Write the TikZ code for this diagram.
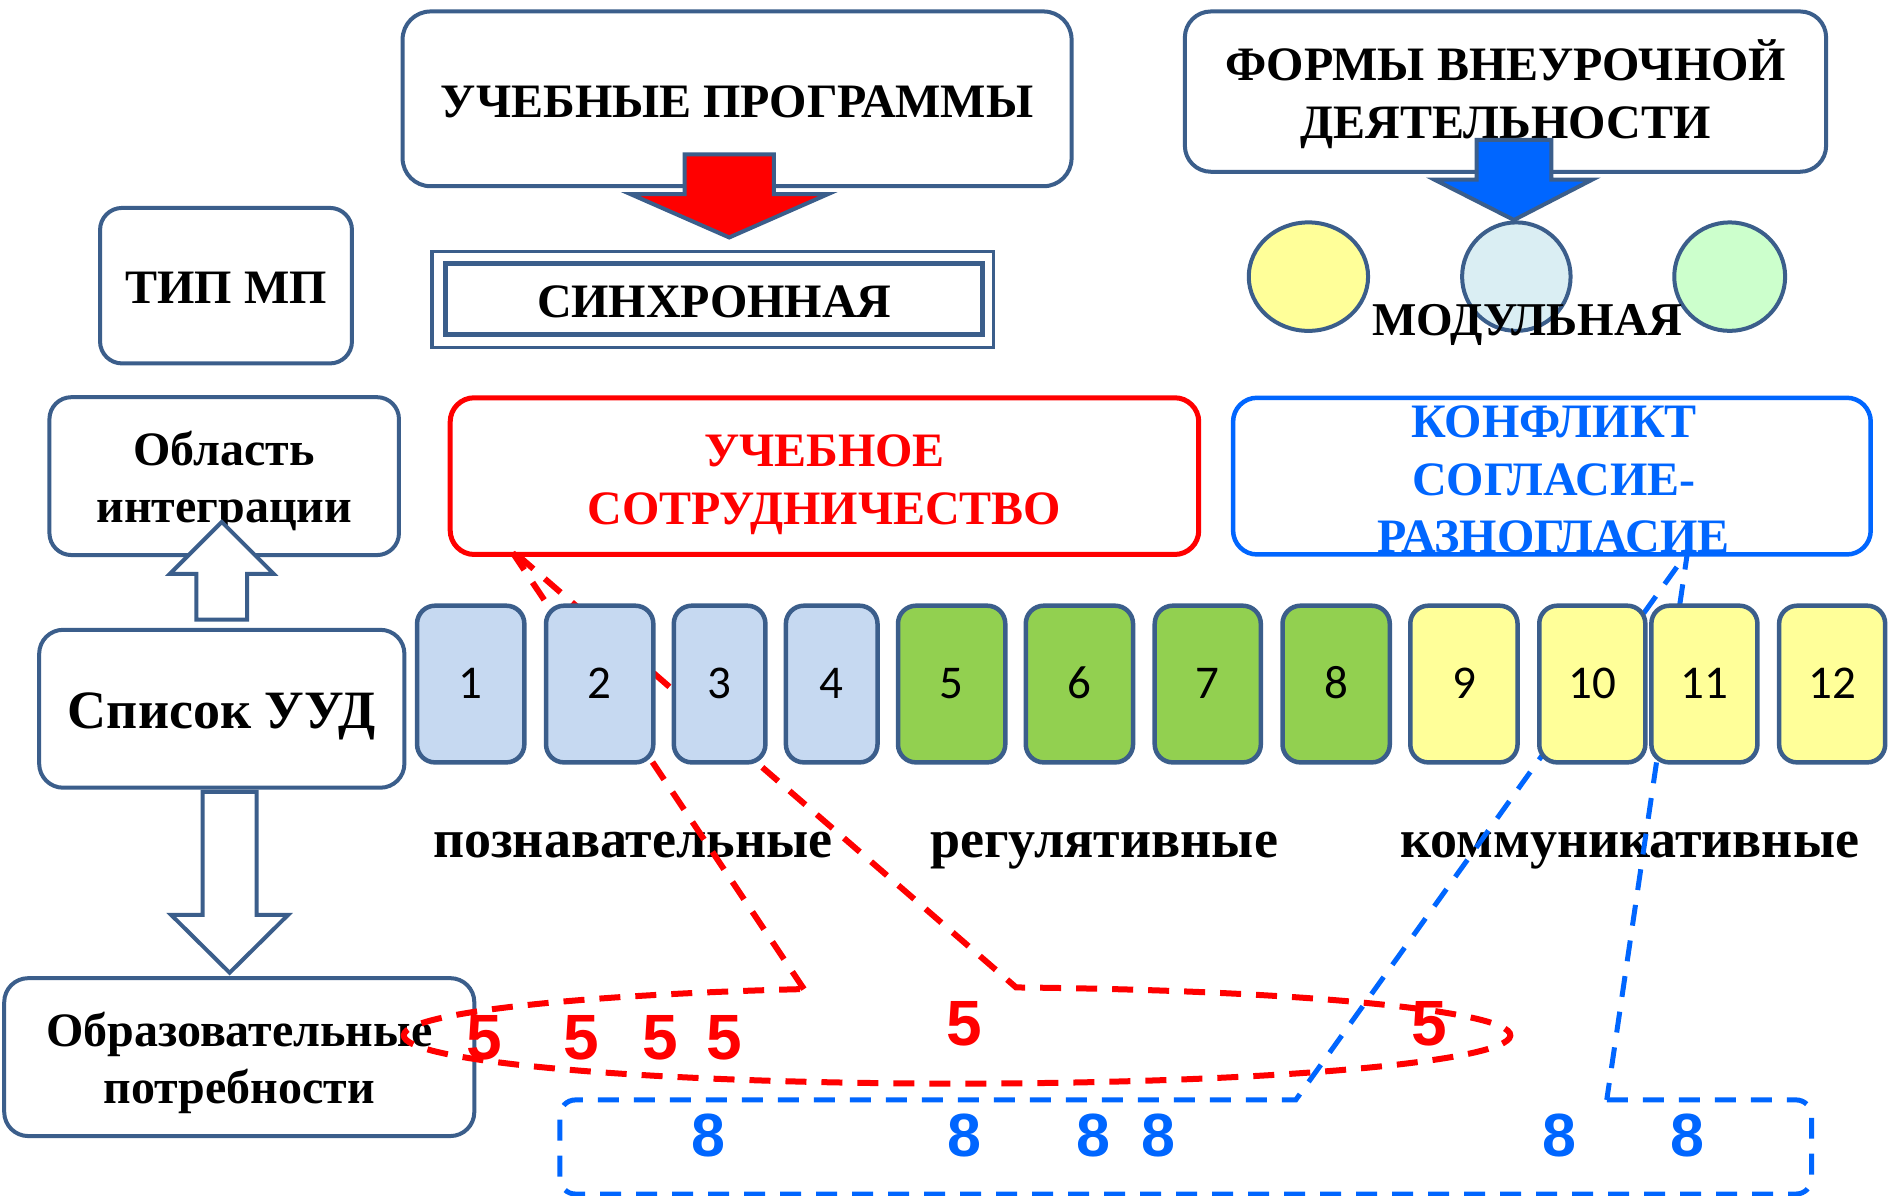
\documentclass[tikz,border=0pt]{standalone}
\usepackage{fontspec}
\setmainfont{Liberation Serif}
\newfontfamily\numfont{Carlito}
\newfontfamily\digfont{Liberation Sans}
\usetikzlibrary{shapes.geometric}
\definecolor{steel}{HTML}{3B5E8B}
\definecolor{cblue}{HTML}{C6D9F1}
\definecolor{cgreen}{HTML}{92D050}
\definecolor{cyellow}{HTML}{FFFF99}
\definecolor{bblue}{HTML}{0066FF}
\definecolor{ered}{HTML}{FF0000}
\definecolor{elblue}{HTML}{DAEEF3}
\definecolor{elgreen}{HTML}{CCFFCC}
\newcommand\myvs{\rule[-0.19em]{0pt}{1.14em}}
\newcommand\mytst{\rule[-0.2em]{0pt}{1.06em}}
\newcommand\myast{\rule[-0.2em]{0pt}{1.116em}}
\newcommand\mynst{\rule[-0.2em]{0pt}{1.032em}}
\def\U{1.2054pt}
\begin{document}
\begin{tikzpicture}[x=1.2054pt,y=-1.2054pt,
  bx/.style={draw=steel, line width=4pt, fill=white, inner sep=0pt, align=center,
    font=\fontsize{48}{57.6}\selectfont\bfseries},
  txt/.style={inner sep=0pt, align=center, font=\fontsize{48}{57.6}\selectfont\bfseries},
  numbox/.style={draw=steel, line width=4.5pt, rounded corners=18pt, inner sep=0pt,
    minimum height=130*\U, font=\fontsize{47}{50}\selectfont\numfont},
  blockarrow/.style={draw=steel, line width=4pt, line join=miter},
  elli/.style={ellipse, draw=steel, line width=4pt, inner sep=0pt, minimum height=90*\U},
  lbl/.style={inner sep=0pt, font=\fontsize{54}{60}\selectfont\bfseries},
  reddash/.style={draw=ered, line width=6pt, dash pattern=on 21pt off 15pt},
  bluedash/.style={draw=bblue, line width=5pt, dash pattern=on 21pt off 15pt},
  fiveS/.style={inner sep=0pt, text=ered, font=\fontsize{64}{70}\selectfont\digfont\bfseries},
  eightS/.style={inner sep=0pt, text=bblue, font=\fontsize{61}{70}\selectfont\digfont\bfseries}]
\fill[white] (0,0) rectangle (1568,992);
\useasboundingbox (0,0) rectangle (1568,992);

% top-left boxes
\node[bx, rounded corners=22pt, minimum width=209*\U, minimum height=129*\U] (tip) at (187.5,237) {\myvs ТИП МП};
\node[bx, rounded corners=22pt, minimum width=290*\U, minimum height=131*\U] (obl) at (186,395) {\myvs Область\\\myvs интеграции};
\node[bx, rounded corners=24pt, minimum width=303*\U, minimum height=131*\U, font=\fontsize{54}{60}\selectfont\bfseries] (spisok) at (184,588) {\myvs Список УУД};
\node[bx, rounded corners=24pt, minimum width=390*\U, minimum height=131*\U] (obraz) at (198.5,877) {\myvs Образовательные\\\myvs потребности};

% white block arrows
\filldraw[blockarrow, fill=white] (163,514) -- (163,476) -- (141,476) -- (184,433) -- (227,476) -- (205,476) -- (205,514) -- cycle;
\filldraw[blockarrow, fill=white] (168,657) -- (213,657) -- (213,759) -- (239,759) -- (190.5,807) -- (142,759) -- (168,759) -- cycle;

% top boxes
\node[bx, rounded corners=28pt, minimum width=555*\U, minimum height=145*\U] (prog) at (611.5,82) {\myvs УЧЕБНЫЕ ПРОГРАММЫ};
\filldraw[blockarrow, fill=ered] (568,128) -- (642,128) -- (642,161) -- (687,161) -- (605,197) -- (523,161) -- (568,161) -- cycle;
\node[draw=steel, line width=3.3pt, fill=white, minimum width=466*\U, minimum height=80*\U] (sinframe) at (591.5,248.5) {};
\node[bx, line width=5pt, minimum width=446*\U, minimum height=59*\U] (sin) at (592.5,248) {\myvs СИНХРОННАЯ};

\node[bx, rounded corners=26pt, minimum width=532*\U, minimum height=133*\U] (form) at (1249,76) {};
\node[txt] (formtxt) at (form.center) {\myvs ФОРМЫ ВНЕУРОЧНОЙ\\\myvs ДЕЯТЕЛЬНОСТИ};
\filldraw[blockarrow, fill=bblue] (1225,116) -- (1287,116) -- (1287,149) -- (1321,149) -- (1256,182.5) -- (1190,149) -- (1225,149) -- cycle;

\node[elli, fill=cyellow, minimum width=99*\U] (e1) at (1085.5,229.5) {};
\node[elli, fill=elblue, minimum width=90*\U] (e2) at (1258,229.5) {};
\node[elli, fill=elgreen, minimum width=92*\U] (e3) at (1435,229.5) {};
\node[inner sep=0pt, font=\fontsize{47}{50}\selectfont\bfseries] (modul) at (1267,265.5) {\mytst МОДУЛЬНАЯ};

% middle boxes
\node[bx, draw=ered, line width=5pt, rounded corners=24pt, minimum width=621*\U, minimum height=130*\U] (coop) at (684,395) {};
\node[txt, text=ered] (cooptxt) at ([yshift=-1.5pt]coop.center) {\myvs УЧЕБНОЕ\\\myvs СОТРУДНИЧЕСТВО};
\node[bx, draw=bblue, line width=4.5pt, rounded corners=24pt, minimum width=529*\U, minimum height=130*\U] (confl) at (1287.5,395) {};
\node[txt, text=bblue] (confltxt) at ([xshift=2pt,yshift=-1pt]confl.center) {\myvs КОНФЛИКТ\\\myvs СОГЛАСИЕ-\\\myvs РАЗНОГЛАСИЕ};

% group labels
\node[lbl] (l1) at (525,697) {\mytst познавательные};
\node[lbl] (l2) at (916,697) {\mytst регулятивные};
\node[lbl] (l3) at (1352,697) {\mytst коммуникативные};

% callouts
\coordinate (rtip) at (423,455);
\coordinate (btip) at (1400,458);
\draw[reddash] (667,820.6) -- (rtip) -- (843,819.2)
  arc[start angle=83.87, end angle=-253.94, x radius=459*\U, y radius=40*\U] -- cycle;
\draw[bluedash] (1333,912.5) -- (1490,912.5)
  arc[start angle=90, end angle=0, radius=13*\U] -- (1503,977.6)
  arc[start angle=0, end angle=-90, radius=13*\U] -- (477.5,990.6)
  arc[start angle=-90, end angle=-180, radius=13*\U] -- (464.5,925.5)
  arc[start angle=180, end angle=90, radius=13*\U] -- (1075,912.5) -- (btip) -- cycle;

% number boxes
\foreach \n/\cx/\w/\c in {1/390.5/89/cblue, 2/497.5/89/cblue, 3/597/76/cblue, 4/690/76/cblue,
  5/789.5/89/cgreen, 6/895.5/89/cgreen, 7/1002/88/cgreen, 8/1108.5/89/cgreen,
  9/1214.5/89/cyellow, 10/1321/88/cyellow, 11/1414/88/cyellow, 12/1520/88/cyellow}
  \node[numbox, fill=\c, minimum width=\w*\U] (n\n) at (\cx,567.5) {\mynst\n};

% numbers in callouts
\node[fiveS] (f1) at (402,860) {\myast 5};
\node[fiveS] (f2) at (482,860) {\myast 5};
\node[fiveS] (f3) at (548,860) {\myast 5};
\node[fiveS] (f4) at (601,860) {\myast 5};
\node[fiveS] (f5) at (800,848) {\myast 5};
\node[fiveS] (f6) at (1186,848) {\myast 5};
\node[eightS] (g1) at (588,941) {\myast 8};
\node[eightS] (g2) at (800,941) {\myast 8};
\node[eightS] (g3) at (907,941) {\myast 8};
\node[eightS] (g4) at (961,941) {\myast 8};
\node[eightS] (g5) at (1294,941) {\myast 8};
\node[eightS] (g6) at (1400,941) {\myast 8};
\end{tikzpicture}
\end{document}
